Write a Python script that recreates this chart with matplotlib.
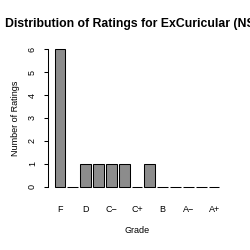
import matplotlib
matplotlib.use("Agg")
from matplotlib import pyplot as plt

plt.rcParams['font.family'] = ['Liberation Sans', 'DejaVu Sans']

grades = ['F', 'D-', 'D', 'D+', 'C-', 'C', 'C+', 'B-', 'B', 'B+', 'A-', 'A', 'A+']
counts = [6, 0, 1, 1, 1, 1, 0, 1, 0, 0, 0, 0, 0]
shown_labels = ['F', 'D', 'C\u2212', 'C+', 'B', 'A\u2212', 'A+']
shown_idx = [0, 2, 4, 6, 8, 10, 12]

# R barplot style positions: width 1, space 0.2
pos = [0.7 + 1.2 * i for i in range(len(grades))]

fig = plt.figure(figsize=(2.5, 2.5), dpi=100)
ax = fig.add_axes([0.192, 0.231, 0.712, 0.594])
ax.bar(pos, counts, width=1.0, color='#8c8c8c', edgecolor='black', linewidth=0.75)

lo, hi = 0.2, pos[-1] + 0.5
pad = (hi - lo) * 0.04
ax.set_xlim(lo - pad, hi + pad)
ax.set_ylim(-0.24, 6.24)

for s in ['top', 'right', 'bottom']:
    ax.spines[s].set_visible(False)
ax.spines['left'].set_bounds(0, 6)
ax.spines['left'].set_linewidth(0.75)

ax.set_yticks(range(7))
ax.set_yticklabels([str(i) for i in range(7)], rotation=90, va='center', fontsize=6.5)
ax.tick_params(axis='y', length=3, width=0.75, pad=5)

ax.set_xticks([pos[i] for i in shown_idx])
ax.set_xticklabels(shown_labels, fontsize=6.5)
ax.tick_params(axis='x', length=0, pad=9)

ax.set_xlabel('Grade', fontsize=6.5, labelpad=9)
ax.set_ylabel('Number of Ratings', fontsize=6.5, labelpad=6)

fig.text(5 / 250, 1 - 27 / 250, 'Distribution of Ratings for ExCuricular (NSC)',
         ha='left', va='baseline', fontsize=8.8, fontweight='bold')

fig.savefig('out.png', dpi=100, facecolor='white')
